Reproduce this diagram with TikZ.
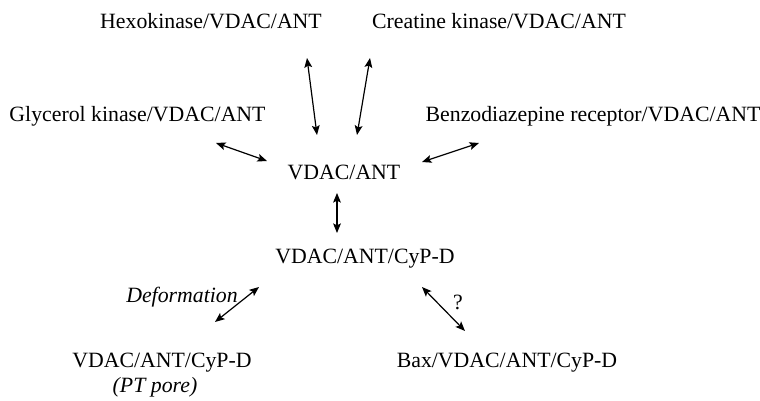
\documentclass[tikz,border=0pt]{standalone}
\usepackage{fontspec}
\setmainfont{Liberation Serif}
\usetikzlibrary{arrows.meta}
\begin{document}
\begin{tikzpicture}[x=0.5pt,y=-0.5pt,
  lbl/.style={anchor=base,inner sep=0pt,font=\fontsize{10.9pt}{13pt}\selectfont},
  ilbl/.style={lbl,font=\fontsize{10.9pt}{13pt}\selectfont\itshape},
  dbl/.style={{Stealth[length=4.8pt,width=3.9pt,inset=1pt]}-{Stealth[length=4.8pt,width=3.9pt,inset=1pt]},line width=0.6pt}]
\useasboundingbox (0,0) rectangle (760,401);
\node[lbl] (hexo) at (211,29) {Hexokinase/VDAC/ANT};
\node[lbl] (crea) at (499,29) {Creatine kinase/VDAC/ANT};
\node[lbl] (glyc) at (137.5,122) {Glycerol kinase/VDAC/ANT};
\node[lbl] (benz) at (593,122) {Benzodiazepine receptor/VDAC/ANT};
\node[lbl] (va) at (344,179) {VDAC/ANT};
\node[lbl] (vac) at (365,263) {VDAC/ANT/CyP-D};
\node[ilbl] (def) at (182,302) {Deformation};
\node[lbl] (q) at (458,309) {?};
\node[lbl] (pt) at (162,367) {VDAC/ANT/CyP-D};
\node[ilbl] (ptp) at (155,392) {(PT pore)};
\node[lbl] (bax) at (507,367) {Bax/VDAC/ANT/CyP-D};
\coordinate (h1) at (307,58); \coordinate (h2) at (317,135);
\coordinate (c1) at (370,58); \coordinate (c2) at (357,135);
\coordinate (g1) at (216,143); \coordinate (g2) at (267,161);
\coordinate (b1) at (479,143); \coordinate (b2) at (422,162);
\coordinate (v1) at (337,193); \coordinate (v2) at (337,233);
\coordinate (d1) at (259,287); \coordinate (d2) at (215,322);
\coordinate (x1) at (422,287); \coordinate (x2) at (465,331);
\draw[dbl] (h1) -- (h2);
\draw[dbl] (c1) -- (c2);
\draw[dbl] (g1) -- (g2);
\draw[dbl] (b1) -- (b2);
\draw[dbl] (v1) -- (v2);
\draw[dbl] (d1) -- (d2);
\draw[dbl] (x1) -- (x2);
\end{tikzpicture}
\end{document}
